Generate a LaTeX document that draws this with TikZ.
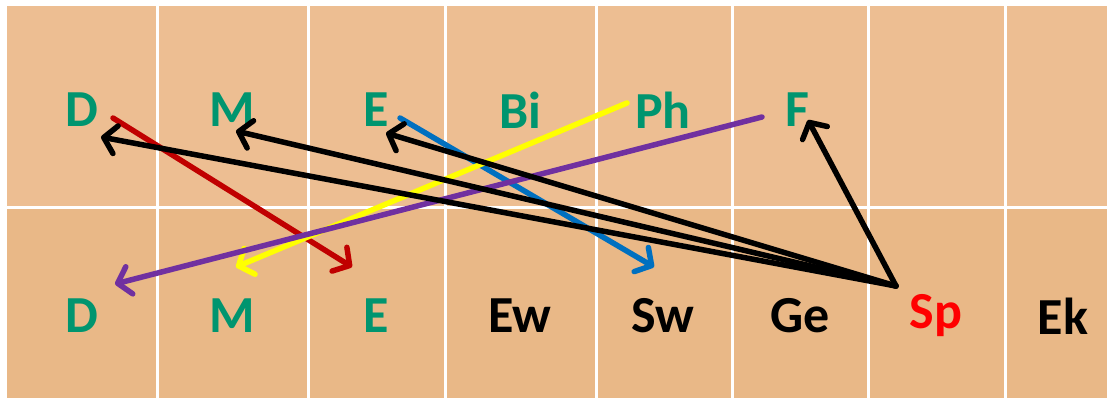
\documentclass[tikz,border=0pt]{standalone}
\usepackage{fontspec}
\setmainfont{Carlito}
\usetikzlibrary{arrows.meta}
\definecolor{topfill}{HTML}{EDBE92}
\definecolor{botfill}{HTML}{E9B887}
\definecolor{lblgreen}{HTML}{00956F}
\definecolor{arrred}{HTML}{C00000}
\definecolor{arrblue}{HTML}{0070C0}
\definecolor{arryellow}{HTML}{FFFF00}
\definecolor{arrpurple}{HTML}{7030A0}
\tikzset{
  lbl/.style={font=\fontsize{52}{62}\selectfont\bfseries, inner sep=0pt, anchor=center},
  grn/.style={lbl, text=lblgreen},
  blk/.style={lbl, text=black},
  arr/.style={line width=5.5pt, line cap=round, -{Straight Barb[length=12pt,width=28pt,line width=5.5pt,round]}},
  grid/.style={draw=white, line width=3pt}
}
\begin{document}
\begin{tikzpicture}[x=1pt,y=-1pt]
\useasboundingbox (0,0) rectangle (1107,398);
\fill[white] (0,0) rectangle (1107,398);
\fill[topfill] (7,6) rectangle (1107,207);
\fill[botfill] (7,207) rectangle (1107,398);
\foreach \x in {157,308,445,596,732,868,1005} \draw[grid] (\x,6) -- (\x,398);
\draw[grid] (7,207) -- (1107,207);
% top row labels
\node[grn] (tD) at (82,110) {D};
\node[grn] (tM) at (232,110) {M};
\node[grn] (tE) at (376,110) {E};
\node[grn] (tBi) at (520,110) {Bi};
\node[grn] (tPh) at (663,110) {Ph};
\node[grn] (tF) at (797,110) {F};
% bottom row labels
\node[grn] (bD) at (82,316) {D};
\node[grn] (bM) at (232,316) {M};
\node[grn] (bE) at (376,316) {E};
\node[blk] (bEw) at (520,316) {Ew};
\node[blk] (bSw) at (663,316) {Sw};
\node[blk] (bGe) at (800,316) {Ge};
\node[lbl, text=red] (bSp) at (936,316) {Sp};
\node[blk] (bEk) at (1063,316) {Ek};
% connector end points
\coordinate (rS) at (113,118); \coordinate (rT) at (352,267);
\coordinate (bS) at (400,118); \coordinate (bT) at (654,267);
\coordinate (yS) at (627,103); \coordinate (yT) at (236,267);
\coordinate (pS) at (762,117); \coordinate (pT) at (115,284);
\coordinate (k0) at (896,286);
\coordinate (kD) at (101,137); \coordinate (kM) at (236,131);
\coordinate (kE) at (386,133); \coordinate (kF) at (808,120);
\draw[arr, arrred] (rS) -- (rT);
\draw[arr, arrblue] (bS) -- (bT);
\draw[arr, arryellow] (yS) -- (yT);
\draw[arr, arrpurple] (pS) -- (pT);
\draw[arr, black] (k0) -- (kD);
\draw[arr, black] (k0) -- (kM);
\draw[arr, black] (k0) -- (kE);
\draw[arr, black] (k0) -- (kF);
\end{tikzpicture}
\end{document}
